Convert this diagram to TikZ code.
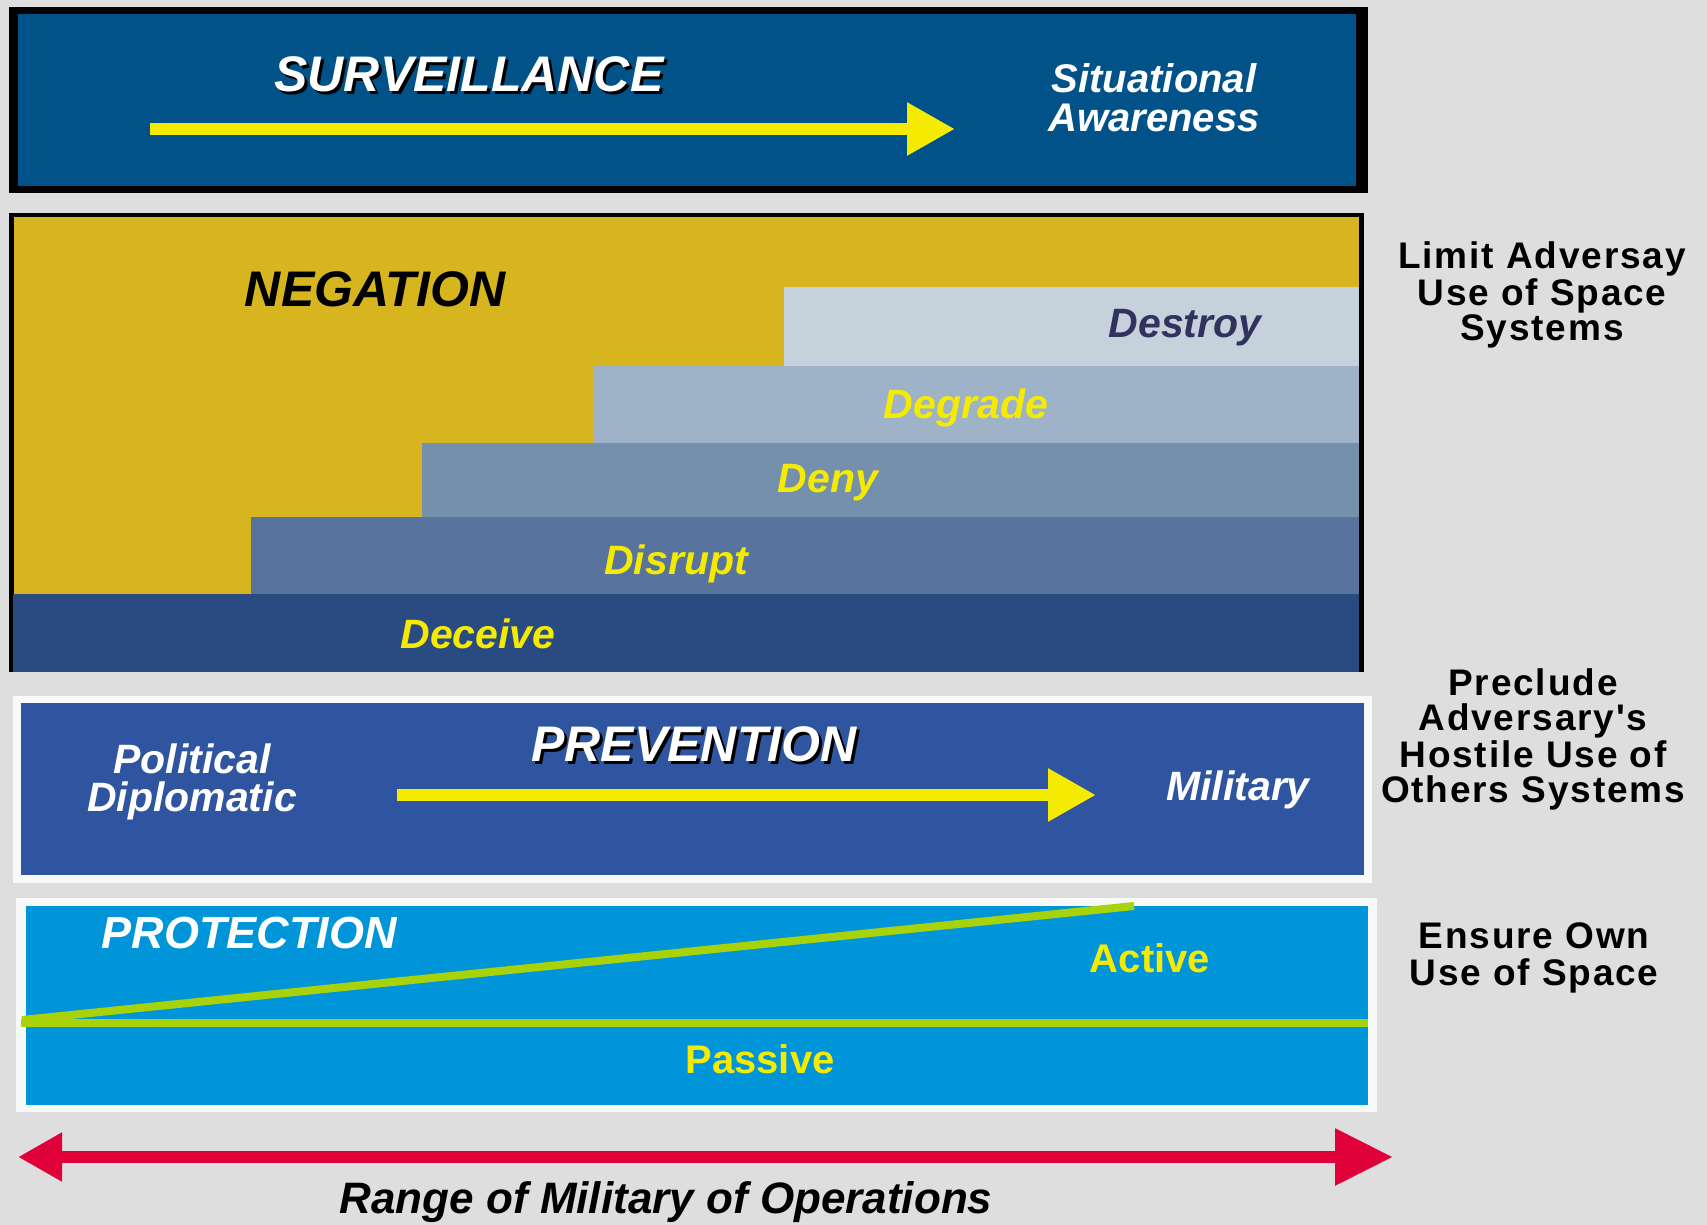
\documentclass[tikz,border=0pt]{standalone}
\usepackage{fontspec}
\setmainfont{Liberation Sans}
\newfontfamily\sidefont[LetterSpace=5]{Liberation Sans}
\usetikzlibrary{arrows.meta}

\definecolor{bggray}{RGB}{222,222,222}
\definecolor{survblue}{RGB}{0,82,136}
\definecolor{negold}{RGB}{214,181,30}
\definecolor{stepdestroy}{RGB}{197,210,220}
\definecolor{stepdegrade}{RGB}{158,179,200}
\definecolor{stepdeny}{RGB}{116,144,173}
\definecolor{stepdisrupt}{RGB}{88,115,158}
\definecolor{stepdeceive}{RGB}{42,74,130}
\definecolor{prevblue}{RGB}{48,85,160}
\definecolor{protblue}{RGB}{0,149,216}
\definecolor{limegreen}{RGB}{168,210,10}
\definecolor{brightyellow}{RGB}{245,235,0}
\definecolor{crimson}{RGB}{224,0,58}
\definecolor{navytext}{RGB}{50,50,95}
\definecolor{framewhite}{RGB}{248,249,249}

\begin{document}
\begin{tikzpicture}[x=1pt,y=-1pt,
  txt/.style={inner sep=0pt, anchor=base},
  big/.style={txt, font=\fontsize{50}{50}\selectfont\bfseries\itshape},
  mid/.style={txt, font=\fontsize{41}{41}\selectfont\bfseries\itshape},
  upright/.style={txt, font=\fontsize{40}{40}\selectfont\bfseries},
  side/.style={txt, font=\fontsize{37}{37}\sidefont\bfseries},
  shadowtxt/.style={text=black},
  band/.style={fill=#1, draw=none},
  yarrow/.style={line width=12pt, brightyellow, -{Triangle[length=48pt,width=50pt]}},
  rarrow/.style={line width=12pt, crimson,
    {Triangle[length=44pt,width=46pt]}-{Triangle[length=58pt,width=54pt]}},
  greenline/.style={line width=8pt, limegreen}
]
% canvas
\fill[bggray] (0,0) rectangle (1707,1225);
\useasboundingbox (0,0) rectangle (1707,1225);

% ---- surveillance panel ----
\fill[black] (9,7) rectangle (1368,193);
\fill[survblue] (18,14) rectangle (1356,186);
\node[big, shadowtxt] (survS) at (472,95) {SURVEILLANCE};
\node[big, text=white] (surv) at (469,92) {SURVEILLANCE};
\coordinate (survA) at (150,129);
\coordinate (survB) at (955,129);
\draw[yarrow] (survA) -- (survB);
\node[mid, text=white, font=\fontsize{40}{40}\selectfont\bfseries\itshape] (sit1) at (1154,93) {Situational};
\node[mid, text=white, font=\fontsize{40}{40}\selectfont\bfseries\itshape] (sit2) at (1154,132) {Awareness};

% ---- negation panel ----
\fill[black] (9,213) rectangle (1364,672);
\fill[negold] (14,217) rectangle (1359,672);
\fill[band=stepdestroy] (784,287) rectangle (1359,369);
\fill[band=stepdegrade] (593,366) rectangle (1359,445);
\fill[band=stepdeny]    (422,443) rectangle (1359,520);
\fill[band=stepdisrupt] (251,517) rectangle (1359,597);
\fill[band=stepdeceive] (13,594) rectangle (1359,672);
\node[big, text=black] (neg) at (375,306) {NEGATION};
\node[mid, text=navytext] (destroy) at (1185,337) {Destroy};
\node[mid, text=brightyellow] (degrade) at (966,418) {Degrade};
\node[mid, text=brightyellow] (deny) at (828,492) {Deny};
\node[mid, text=brightyellow] (disrupt) at (676,574) {Disrupt};
\node[mid, text=brightyellow] (deceive) at (478,648) {Deceive};

% ---- prevention panel ----
\fill[framewhite] (13,696) rectangle (1372,883);
\fill[prevblue] (21,703) rectangle (1364,875);
\node[big, shadowtxt] (prevS) at (697,764) {PREVENTION};
\node[big, text=white] (prev) at (694,761) {PREVENTION};
\node[mid, text=white] (pol) at (192,773) {Political};
\node[mid, text=white] (dip) at (192,811) {Diplomatic};
\coordinate (prevA) at (397,795);
\coordinate (prevB) at (1096,795);
\draw[yarrow] (prevA) -- (prevB);
\node[mid, text=white] (mil) at (1238,800) {Military};

% ---- protection panel ----
\fill[framewhite] (16,898) rectangle (1377,1112);
\fill[protblue] (26,906) rectangle (1368,1105);
\coordinate (gL) at (21,1023);
\coordinate (gR) at (1368,1023);
\coordinate (dL) at (22,1020);
\coordinate (dR) at (1134,906);
\draw[greenline] (gL) -- (gR);
\draw[greenline] (dL) -- (dR);
\node[txt, font=\fontsize{45}{45}\selectfont\bfseries\itshape, text=white] (prot) at (249,948) {PROTECTION};
\node[upright, text=brightyellow] (active) at (1150,972) {Active};
\node[upright, text=brightyellow] (passive) at (760,1073) {Passive};

% ---- range of operations ----
\coordinate (rL) at (18,1157);
\coordinate (rR) at (1393,1157);
\draw[rarrow] (rL) -- (rR);
\node[txt, font=\fontsize{44}{44}\selectfont\bfseries\itshape, text=black] (range) at (666,1213) {Range of Military of Operations};

% ---- side captions ----
\node[side] (lim1) at (1542,268) {Limit Adversay};
\node[side] (lim2) at (1542,305) {Use of Space};
\node[side] (lim3) at (1542,340) {Systems};
\node[side] (pre1) at (1533,695) {Preclude};
\node[side] (pre2) at (1533,730) {Adversary's};
\node[side] (pre3) at (1533,767) {Hostile Use of};
\node[side] (pre4) at (1533,802) {Others Systems};
\node[side] (ens1) at (1534,948) {Ensure Own};
\node[side] (ens2) at (1534,985) {Use of Space};
\end{tikzpicture}
\end{document}
